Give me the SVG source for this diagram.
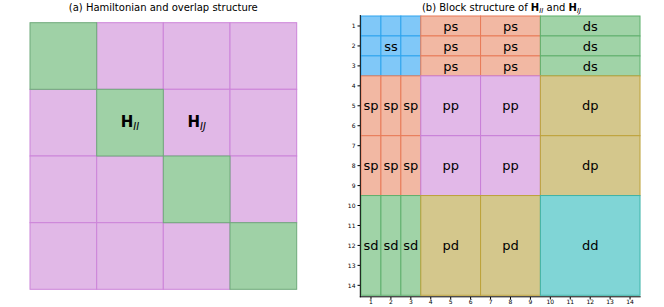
<svg xmlns="http://www.w3.org/2000/svg" width="664" height="307" viewBox="0 0 664 307">
<style>
text{font-family:"DejaVu Sans","Liberation Sans",sans-serif;fill:#000}
.title{font-size:10px;text-anchor:middle}
.hb{font-weight:bold}
.sub{font-style:italic;font-weight:normal}
.lbl{font-size:13px;text-anchor:middle}
.tk{font-size:6px;fill:#222}
.tky{text-anchor:end}
.tkx{text-anchor:middle}
.gA{fill:#9fd1a6;stroke:#6ea97a;stroke-width:1}
.pA{fill:#e1b8e7;stroke:#cc84d9;stroke-width:1}
.bl{fill:#80c8f8;stroke:#2ea4ee;stroke-width:1}
.sa{fill:#f2b8a3;stroke:#e87b58;stroke-width:1}
.gr{fill:#a0d3a7;stroke:#5fb06d;stroke-width:1}
.pk{fill:#e2b8e8;stroke:#c87ed8;stroke-width:1}
.kh{fill:#d4c78c;stroke:#bda23a;stroke-width:1}
.te{fill:#80d5d6;stroke:#3db3a8;stroke-width:1}
.ax{stroke:#000;stroke-width:1;fill:none}
</style>

<!-- Panel (a) -->
<text class="title" x="163.3" y="10.5">(a) Hamiltonian and overlap structure</text>
<g id="panelA">
  <g id="a-offdiag">
    <rect class="pA" x="96.7" y="22.7" width="66.6" height="66.6"/>
    <rect class="pA" x="163.3" y="22.7" width="66.7" height="66.6"/>
    <rect class="pA" x="230" y="22.7" width="66.7" height="66.6"/>
    <rect class="pA" x="30" y="89.3" width="66.7" height="66.7"/>
    <rect class="pA" x="163.3" y="89.3" width="66.7" height="66.7"/>
    <rect class="pA" x="230" y="89.3" width="66.7" height="66.7"/>
    <rect class="pA" x="30" y="156" width="66.7" height="66.7"/>
    <rect class="pA" x="96.7" y="156" width="66.6" height="66.7"/>
    <rect class="pA" x="230" y="156" width="66.7" height="66.7"/>
    <rect class="pA" x="30" y="222.7" width="66.7" height="66.6"/>
    <rect class="pA" x="96.7" y="222.7" width="66.6" height="66.6"/>
    <rect class="pA" x="163.3" y="222.7" width="66.7" height="66.6"/>
  </g>
  <g id="a-diag">
    <rect class="gA" x="30" y="22.7" width="66.7" height="66.6"/>
    <rect class="gA" x="96.7" y="89.3" width="66.6" height="66.7"/>
    <rect class="gA" x="163.3" y="156" width="66.7" height="66.7"/>
    <rect class="gA" x="230" y="222.7" width="66.7" height="66.6"/>
  </g>
  <g id="label-HII">
    <text x="130" y="126.7" style="font-size:15px;text-anchor:middle"><tspan class="hb">H</tspan><tspan class="sub" font-size="10" dy="3">II</tspan></text>
  </g>
  <g id="label-HIJ">
    <text x="196.7" y="126.7" style="font-size:15px;text-anchor:middle"><tspan class="hb">H</tspan><tspan class="sub" font-size="10" dy="3">IJ</tspan></text>
  </g>
</g>

<!-- Panel (b) -->
<text class="title" x="501.5" y="10.5">(b) Block structure of <tspan class="hb">H</tspan><tspan class="sub" font-size="7" dy="2">II</tspan><tspan dy="-2"> and </tspan><tspan class="hb">H</tspan><tspan class="sub" font-size="7" dy="2">IJ</tspan></text>

<g id="panelB">
  <g id="ss">
    <rect class="bl" x="361" y="16" width="19.93" height="19.95"/>
    <rect class="bl" x="380.93" y="16" width="19.93" height="19.95"/>
    <rect class="bl" x="400.86" y="16" width="19.93" height="19.95"/>
    <rect class="bl" x="361" y="35.95" width="19.93" height="19.95"/>
    <rect class="bl" x="380.93" y="35.95" width="19.93" height="19.95"/>
    <rect class="bl" x="400.86" y="35.95" width="19.93" height="19.95"/>
    <rect class="bl" x="361" y="55.9" width="19.93" height="19.95"/>
    <rect class="bl" x="380.93" y="55.9" width="19.93" height="19.95"/>
    <rect class="bl" x="400.86" y="55.9" width="19.93" height="19.95"/>
    <text class="lbl" x="390.9" y="50.5">ss</text>
  </g>
  <g id="ps">
    <rect class="sa" x="420.79" y="16" width="59.79" height="19.95"/>
    <rect class="sa" x="480.58" y="16" width="59.79" height="19.95"/>
    <rect class="sa" x="420.79" y="35.95" width="59.79" height="19.95"/>
    <rect class="sa" x="480.58" y="35.95" width="59.79" height="19.95"/>
    <rect class="sa" x="420.79" y="55.9" width="59.79" height="19.95"/>
    <rect class="sa" x="480.58" y="55.9" width="59.79" height="19.95"/>
    <text class="lbl" x="450.69" y="30.6">ps</text>
    <text class="lbl" x="510.48" y="30.6">ps</text>
    <text class="lbl" x="450.69" y="50.5">ps</text>
    <text class="lbl" x="510.48" y="50.5">ps</text>
    <text class="lbl" x="450.69" y="70.5">ps</text>
    <text class="lbl" x="510.48" y="70.5">ps</text>
  </g>
  <g id="ds">
    <rect class="gr" x="540.37" y="16" width="99.65" height="19.95"/>
    <rect class="gr" x="540.37" y="35.95" width="99.65" height="19.95"/>
    <rect class="gr" x="540.37" y="55.9" width="99.65" height="19.95"/>
    <text class="lbl" x="590.2" y="30.6">ds</text>
    <text class="lbl" x="590.2" y="50.5">ds</text>
    <text class="lbl" x="590.2" y="70.5">ds</text>
  </g>
  <g id="sp">
    <rect class="sa" x="361" y="75.85" width="19.93" height="59.85"/>
    <rect class="sa" x="380.93" y="75.85" width="19.93" height="59.85"/>
    <rect class="sa" x="400.86" y="75.85" width="19.93" height="59.85"/>
    <rect class="sa" x="361" y="135.7" width="19.93" height="59.85"/>
    <rect class="sa" x="380.93" y="135.7" width="19.93" height="59.85"/>
    <rect class="sa" x="400.86" y="135.7" width="19.93" height="59.85"/>
    <text class="lbl" x="370.97" y="110.4">sp</text>
    <text class="lbl" x="390.9" y="110.4">sp</text>
    <text class="lbl" x="410.83" y="110.4">sp</text>
    <text class="lbl" x="370.97" y="170.2">sp</text>
    <text class="lbl" x="390.9" y="170.2">sp</text>
    <text class="lbl" x="410.83" y="170.2">sp</text>
  </g>
  <g id="pp">
    <rect class="pk" x="420.79" y="75.85" width="59.79" height="59.85"/>
    <rect class="pk" x="480.58" y="75.85" width="59.79" height="59.85"/>
    <rect class="pk" x="420.79" y="135.7" width="59.79" height="59.85"/>
    <rect class="pk" x="480.58" y="135.7" width="59.79" height="59.85"/>
    <text class="lbl" x="450.69" y="110.4">pp</text>
    <text class="lbl" x="510.48" y="110.4">pp</text>
    <text class="lbl" x="450.69" y="170.2">pp</text>
    <text class="lbl" x="510.48" y="170.2">pp</text>
  </g>
  <g id="dp">
    <rect class="kh" x="540.37" y="75.85" width="99.65" height="59.85"/>
    <rect class="kh" x="540.37" y="135.7" width="99.65" height="59.85"/>
    <text class="lbl" x="590.2" y="110.4">dp</text>
    <text class="lbl" x="590.2" y="170.2">dp</text>
  </g>
  <g id="sd">
    <rect class="gr" x="361" y="195.55" width="19.93" height="99.75"/>
    <rect class="gr" x="380.93" y="195.55" width="19.93" height="99.75"/>
    <rect class="gr" x="400.86" y="195.55" width="19.93" height="99.75"/>
    <text class="lbl" x="370.97" y="250">sd</text>
    <text class="lbl" x="390.9" y="250">sd</text>
    <text class="lbl" x="410.83" y="250">sd</text>
  </g>
  <g id="pd">
    <rect class="kh" x="420.79" y="195.55" width="59.79" height="99.75"/>
    <rect class="kh" x="480.58" y="195.55" width="59.79" height="99.75"/>
    <text class="lbl" x="450.69" y="250">pd</text>
    <text class="lbl" x="510.48" y="250">pd</text>
  </g>
  <g id="dd">
    <rect class="te" x="540.37" y="195.55" width="99.65" height="99.75"/>
    <text class="lbl" x="590.2" y="250">dd</text>
  </g>

  <g id="axes">
    <path class="ax" d="M360.3 15 V297.3 M359.8 296.8 H640.7"/>
    <path class="ax" d="M357.5 25.98 H360 M357.5 45.93 H360 M357.5 65.88 H360 M357.5 85.83 H360 M357.5 105.78 H360 M357.5 125.73 H360 M357.5 145.68 H360 M357.5 165.63 H360 M357.5 185.58 H360 M357.5 205.53 H360 M357.5 225.48 H360 M357.5 245.43 H360 M357.5 265.38 H360 M357.5 285.33 H360"/>
    <path class="ax" d="M370.97 297 V299.5 M390.9 297 V299.5 M410.83 297 V299.5 M430.76 297 V299.5 M450.69 297 V299.5 M470.62 297 V299.5 M490.55 297 V299.5 M510.48 297 V299.5 M530.41 297 V299.5 M550.34 297 V299.5 M570.27 297 V299.5 M590.2 297 V299.5 M610.13 297 V299.5 M630.06 297 V299.5"/>
    <g class="tk tky">
      <text x="355.5" y="28.2">1</text>
      <text x="355.5" y="48.1">2</text>
      <text x="355.5" y="68.1">3</text>
      <text x="355.5" y="88">4</text>
      <text x="355.5" y="108">5</text>
      <text x="355.5" y="127.9">6</text>
      <text x="355.5" y="147.9">7</text>
      <text x="355.5" y="167.8">8</text>
      <text x="355.5" y="187.8">9</text>
      <text x="355.5" y="207.7">10</text>
      <text x="355.5" y="227.7">11</text>
      <text x="355.5" y="247.6">12</text>
      <text x="355.5" y="267.6">13</text>
      <text x="355.5" y="287.5">14</text>
    </g>
    <g class="tk tkx">
      <text x="370.97" y="304">1</text>
      <text x="390.9" y="304">2</text>
      <text x="410.83" y="304">3</text>
      <text x="430.76" y="304">4</text>
      <text x="450.69" y="304">5</text>
      <text x="470.62" y="304">6</text>
      <text x="490.55" y="304">7</text>
      <text x="510.48" y="304">8</text>
      <text x="530.41" y="304">9</text>
      <text x="550.34" y="304">10</text>
      <text x="570.27" y="304">11</text>
      <text x="590.2" y="304">12</text>
      <text x="610.13" y="304">13</text>
      <text x="630.06" y="304">14</text>
    </g>
  </g>
</g>
</svg>
